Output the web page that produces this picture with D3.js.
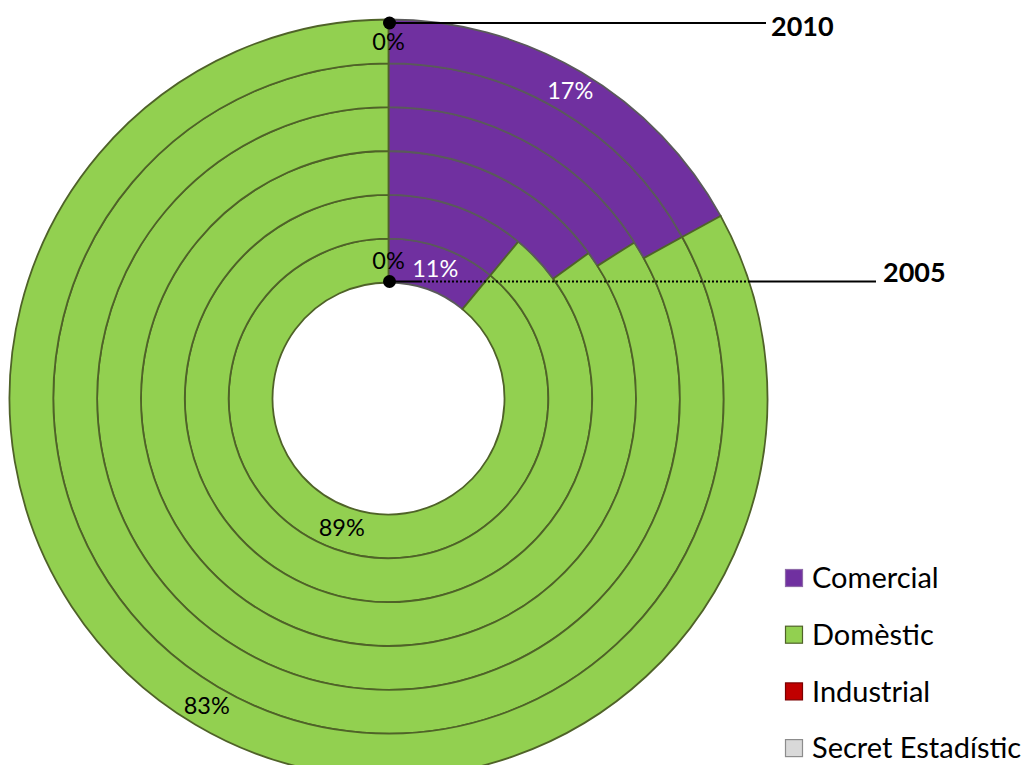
<!DOCTYPE html>
<html>
<head>
<meta charset="utf-8">
<script src="https://cdn.jsdelivr.net/npm/d3@7"></script>
<style>
  html, body { margin: 0; padding: 0; background: #fff; }
  svg { display: block; font-family: Lato, "Open Sans", sans-serif; }
</style>
</head>
<body>
<div id="chart"></div>
<script>
  // one ring per year, inner = 2005, outer = 2010
  var years = ["2005", "2006", "2007", "2008", "2009", "2010"];
  var categories = ["Comercial", "Domèstic", "Industrial", "Secret Estadístic"];
  var comercial = [11, 11, 15, 16, 17, 17];
  var domestic = [89, 89, 85, 84, 83, 83];
  var industrial = [0, 0, 0, 0, 0, 0];
  var secret = [0, 0, 0, 0, 0, 0];
  var labelledYears = ["2005", "2010"];

  var colors = ["#7030a0", "#92d050", "#c00000", "#d9d9d9"];
  var strokes = ["#5a5a5a", "#4f6228", "#7a0000", "#8c8c8c"];
  var legendStrokes = ["#8e6aa8", "#4f6228", "#7a0000", "#8c8c8c"];

  var w = 1028, h = 765;
  var cx = 388.5, cy = 398.5;

  var svg = d3.select("#chart").append("svg")
    .attr("width", w)
    .attr("height", h);

  var r = d3.scaleLinear().domain([0, years.length]).range([116, 379]);

  var pie = d3.pie().sort(null).value(function (d) { return d.value; });

  var rings = years.map(function (y, i) {
    var vals = [comercial[i], domestic[i], industrial[i], secret[i]].map(function (v, k) {
      return { cat: k, value: v };
    });
    return { year: y, index: i, slices: pie(vals) };
  });

  var g = svg.append("g").attr("transform", "translate(" + cx + "," + cy + ")");

  var ringG = g.selectAll("g.ring").data(rings).join("g").attr("class", "ring");

  ringG.each(function (ring) {
    var arc = d3.arc().innerRadius(r(ring.index)).outerRadius(r(ring.index + 1));
    d3.select(this).selectAll("path")
      .data(ring.slices.filter(function (s) { return s.value > 0; }))
      .join("path")
      .attr("d", arc)
      .attr("fill", function (d) { return colors[d.data.cat]; })
      .attr("stroke", function (d) { return strokes[d.data.cat]; })
      .attr("stroke-width", 1.8);
  });

  // data labels on the innermost and outermost rings
  rings.filter(function (ring) { return labelledYears.indexOf(ring.year) >= 0; }).forEach(function (ring) {
    var arc = d3.arc().innerRadius(r(ring.index)).outerRadius(r(ring.index + 1));
    var shown = ring.slices.filter(function (s, k) { return k < 3; });
    g.selectAll(null).data(shown).join("text")
      .attr("transform", function (d) {
        var c = arc.centroid(d);
        return "translate(" + c[0] + "," + c[1] + ")";
      })
      .attr("text-anchor", "middle")
      .attr("dy", "0.35em")
      .attr("font-size", 23.5)
      .attr("fill", function (d) { return d.data.cat === 0 ? "#fff" : "#000"; })
      .text(function (d) { return Math.round(d.value) + "%"; });
  });

  // year callouts
  var yTop = cy - r(years.length) + 3.5;
  var yIn = cy - r(0) - 1;
  svg.append("line").attr("x1", 389).attr("x2", 766).attr("y1", yTop).attr("y2", yTop)
    .attr("stroke", "#000").attr("stroke-width", 2);
  svg.append("circle").attr("cx", 389.5).attr("cy", yTop).attr("r", 6.5).attr("fill", "#000");
  svg.append("text").attr("x", 771).attr("y", yTop + 12.5)
    .attr("font-size", 27).attr("font-weight", "bold").text(years[years.length - 1]);

  svg.append("line").attr("x1", 389).attr("x2", 420).attr("y1", yIn).attr("y2", yIn)
    .attr("stroke", "#000").attr("stroke-width", 2);
  svg.append("line").attr("x1", 420).attr("x2", 748).attr("y1", yIn).attr("y2", yIn)
    .attr("stroke", "#000").attr("stroke-width", 2).attr("stroke-dasharray", "2,2");
  svg.append("line").attr("x1", 748).attr("x2", 876).attr("y1", yIn).attr("y2", yIn)
    .attr("stroke", "#000").attr("stroke-width", 2);
  svg.append("circle").attr("cx", 389.5).attr("cy", yIn).attr("r", 6.5).attr("fill", "#000");
  svg.append("text").attr("x", 883).attr("y", yIn + 0.5)
    .attr("font-size", 27).attr("font-weight", "bold").text(years[0]);

  // legend
  var legend = svg.append("g").attr("transform", "translate(785,578)");
  var item = legend.selectAll("g").data(categories).join("g")
    .attr("transform", function (d, i) { return "translate(0," + (i * 56.7) + ")"; });
  item.append("rect")
    .attr("x", 0.5).attr("y", -8.5).attr("width", 17).attr("height", 17)
    .attr("fill", function (d, i) { return colors[i]; })
    .attr("stroke", function (d, i) { return legendStrokes[i]; })
    .attr("stroke-width", 1.2);
  item.append("text")
    .attr("x", 27).attr("dy", "0.35em")
    .attr("font-size", 29)
    .text(function (d) { return d; });
</script>
</body>
</html>
